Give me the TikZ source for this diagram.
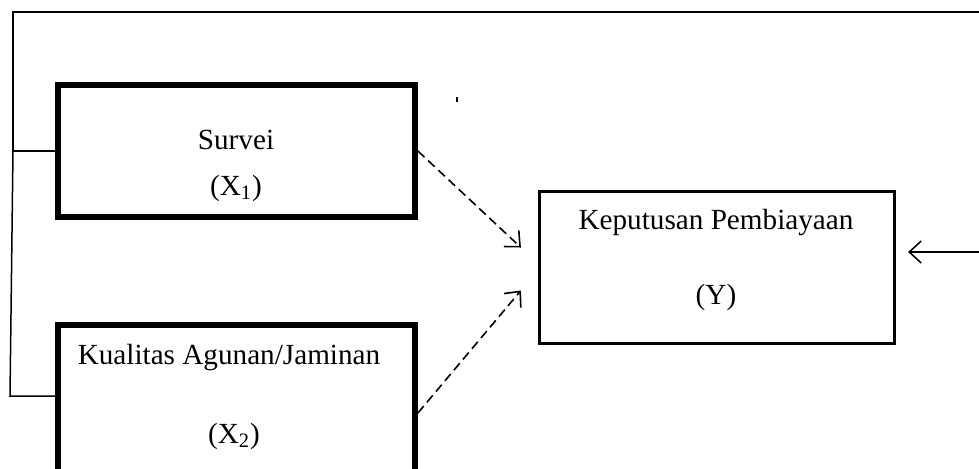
\documentclass[tikz,border=0pt]{standalone}
\usepackage{fontspec}
\setmainfont{Liberation Serif}
\usetikzlibrary{arrows.meta,positioning,calc}
\tikzset{
  varbox/.style={
    draw,
    line width=2.9pt,
    minimum width=178.5pt,
    inner sep=0pt
  },
  ybox/.style={
    draw,
    line width=1.6pt,
    minimum width=177.5pt,
    minimum height=76pt,
    inner sep=0pt
  },
  txt/.style={
    font=\fontsize{14.6}{17}\selectfont,
    inner sep=0pt
  },
  link/.style={line width=0.75pt},
  dasharrow/.style={
    line width=0.8pt,
    dash pattern=on 4.5pt off 2.5pt,
    -{Straight Barb[length=6pt,width=11pt]}
  }
}

\begin{document}
\begin{tikzpicture}[x=0.5pt,y=-0.5pt]
  \clip (0,0) rectangle (979,468);
  \useasboundingbox (0,0) rectangle (979,468);

  \node[varbox, minimum height=66pt] (survei) at (236.5,151) {};
  \node[varbox, minimum height=117.5pt] (kualitas) at (236.5,442.5) {};
  \node[ybox] (keputusan) at (717,267.5) {};

  \node[txt] (survei label) at (236,140) {Survei};
  \node[txt] (x1 label) at (236,188) {(X\textsubscript{1})};
  \node[txt] (kualitas label) at (229,358) {Kualitas Agunan/Jaminan};
  \node[txt] (x2 label) at (234,436) {(X\textsubscript{2})};
  \node[txt] (keputusan label) at (716,223) {Keputusan Pembiayaan};
  \node[txt] (y label) at (716,297) {(Y)};

  % bracket on the left
  \coordinate (topleft) at (13,12);
  \coordinate (topright) at (979,12);
  \coordinate (branch) at (13,151);
  \coordinate (foot) at (10,396);
  \draw[link] (topright) -- (topleft) -- (branch) -- (survei.west);
  \draw[link] (branch) -- (foot) -- (foot -| kualitas.west);

  % arrows into Y
  \coordinate (k out) at (kualitas.east |- 0,413);
  \draw[dasharrow] (survei.east) -- ($(keputusan.west)+(-17,-20)$);
  \draw[dasharrow] (k out) -- ($(keputusan.west)+(-17,23)$);
  \coordinate (r in) at (979,252);
  \draw[link, -{Straight Barb[length=6pt,width=11pt]}] (r in) -- ($(keputusan.east)+(12,-15.5)$);

  % stray mark
  \draw[line width=1pt] (457,97) -- (457,102);
\end{tikzpicture}
\end{document}
